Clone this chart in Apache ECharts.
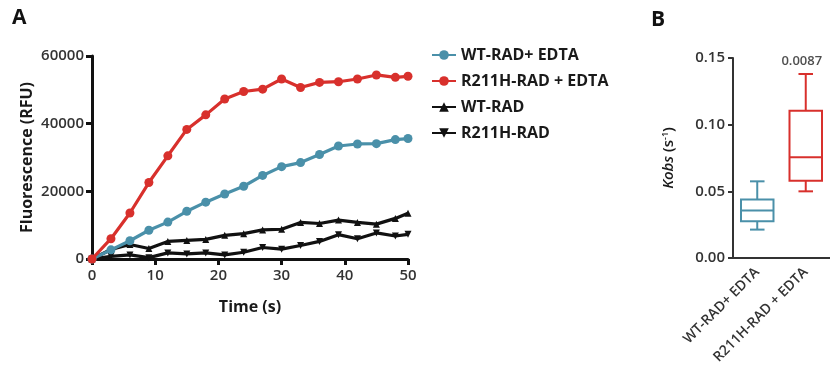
<!DOCTYPE html>
<html>
<head>
<meta charset="utf-8">
<script src="https://cdn.jsdelivr.net/npm/echarts@6/dist/echarts.min.js"></script>
<style>
  html, body { margin: 0; padding: 0; background: #fff; }
  #chart { width: 830px; height: 375px; }
</style>
</head>
<body>
<div id="chart"></div>
<script>
  // panel A: fluorescence over time
  var timeS = [0, 3, 6, 9, 12, 15, 18, 21, 24, 27, 30, 33, 36, 39, 42, 45, 48, 50]
  var wtEdta = [0, 2700, 5400, 8500, 10900, 14100, 16800, 19200, 21500, 24700, 27300, 28500, 30900, 33400, 34000, 34100, 35300, 35600]
  var r211hEdta = [0, 6000, 13600, 22600, 30500, 38300, 42600, 47300, 49500, 50200, 53200, 50700, 52200, 52400, 53200, 54400, 53700, 54000]
  var wtRad = [0, 2800, 4300, 3100, 5200, 5500, 5800, 7000, 7500, 8600, 8800, 10800, 10500, 11500, 10800, 10300, 12000, 13500]
  var r211hRad = [0, 800, 1200, 400, 1800, 1500, 1800, 1200, 2000, 3400, 2900, 4000, 5200, 7200, 6000, 7700, 6800, 7300]
  var seriesNames = ['WT-RAD+ EDTA', 'R211H-RAD + EDTA', 'WT-RAD', 'R211H-RAD']

  // panel B: kobs box plot [min, q1, median, q3, max]
  var boxCategories = ['WT-RAD+ EDTA', 'R211H-RAD + EDTA']
  var boxWt = [0.0213, 0.0275, 0.0357, 0.0438, 0.0575]
  var boxR211h = [0.0500, 0.0580, 0.0755, 0.1105, 0.1380]
  var pValue = '0.0087'
  var pValueAt = [1, 0.143]

  var BLUE = '#4a90a9'
  var RED = '#d8302c'
  var BLACK = '#111'
  var FONT = '"Open Sans", "DejaVu Sans", sans-serif'

  function pairs(ys) {
    return timeS.map(function (t, i) { return [t, ys[i]] })
  }

  function lineSeries(name, ys, color, symbol, rot, size, z) {
    return {
      name: name,
      type: 'line',
      xAxisIndex: 0,
      yAxisIndex: 0,
      data: pairs(ys),
      symbol: symbol,
      symbolRotate: rot,
      symbolSize: size,
      showSymbol: true,
      clip: false,
      z: z,
      lineStyle: { color: color, width: 3.2 },
      itemStyle: { color: color }
    }
  }

  var boxColors = [BLUE, RED]

  function renderBox(params, api) {
    var cat = api.value(0)
    var v = [api.value(1), api.value(2), api.value(3), api.value(4), api.value(5)]
    var band = api.size([1, 0])[0]
    var half = band * 0.335
    var cap = band * 0.15
    var p = v.map(function (y) { return api.coord([cat, y]) })
    var cx = p[0][0]
    var style = { stroke: boxColors[params.dataIndex], lineWidth: 2, fill: null }
    return {
      type: 'group',
      children: [
        { type: 'rect', shape: { x: cx - half, y: p[3][1], width: half * 2, height: p[1][1] - p[3][1] }, style: style },
        { type: 'line', shape: { x1: cx - half, y1: p[2][1], x2: cx + half, y2: p[2][1] }, style: style },
        { type: 'line', shape: { x1: cx, y1: p[3][1], x2: cx, y2: p[4][1] }, style: style },
        { type: 'line', shape: { x1: cx, y1: p[1][1], x2: cx, y2: p[0][1] }, style: style },
        { type: 'line', shape: { x1: cx - cap, y1: p[4][1], x2: cx + cap, y2: p[4][1] }, style: style },
        { type: 'line', shape: { x1: cx - cap, y1: p[0][1], x2: cx + cap, y2: p[0][1] }, style: style }
      ]
    }
  }

  var option = {
    animation: false,
    textStyle: { fontFamily: FONT },
    graphic: [
      { type: 'text', left: 12, top: 8, style: { text: 'A', font: 'bold 21px ' + FONT, fill: '#111' } },
      { type: 'text', left: 651, top: 10, style: { text: 'B', font: 'bold 21px ' + FONT, fill: '#111' } }
    ],
    legend: {
      data: seriesNames,
      orient: 'vertical',
      left: 426,
      top: 39,
      itemWidth: 24,
      itemHeight: 12,
      itemGap: 4,
      textStyle: { fontSize: 16, fontWeight: 'bold', color: '#1a1a1a', fontFamily: FONT, lineHeight: 22 }
    },
    grid: [
      { left: 92, right: 422, top: 56, bottom: 116 },
      { left: 733, right: -7, top: 58, bottom: 117 }
    ],
    xAxis: [
      {
        type: 'value', gridIndex: 0, min: 0, max: 50, interval: 10,
        name: 'Time (s)', nameLocation: 'middle', nameGap: 40,
        nameTextStyle: { fontSize: 16, fontWeight: 'bold', color: '#1a1a1a' },
        axisLine: { lineStyle: { color: BLACK, width: 3 } },
        axisTick: { length: 6, lineStyle: { color: BLACK, width: 3 } },
        axisLabel: { fontSize: 15, fontWeight: 600, color: '#333', margin: 9 },
        splitLine: { show: false }
      },
      {
        type: 'category', gridIndex: 1, data: boxCategories,
        axisLine: { lineStyle: { color: '#333', width: 2 } },
        axisTick: { alignWithLabel: true, length: 5, lineStyle: { color: '#333', width: 2 } },
        axisLabel: { rotate: 45, fontSize: 14, fontWeight: 600, color: '#333', margin: 12, interval: 0 }
      }
    ],
    yAxis: [
      {
        type: 'value', gridIndex: 0, min: 0, max: 60000, interval: 20000,
        name: 'Fluorescence (RFU)', nameLocation: 'middle', nameGap: 57,
        nameTextStyle: { fontSize: 16, fontWeight: 'bold', color: '#1a1a1a' },
        axisLine: { show: true, lineStyle: { color: BLACK, width: 3 } },
        axisTick: { show: true, length: 6, lineStyle: { color: BLACK, width: 3 } },
        axisLabel: { fontSize: 15, fontWeight: 600, color: '#333', margin: 8, formatter: function (v) { return String(v) } },
        splitLine: { show: false }
      },
      {
        type: 'value', gridIndex: 1, min: 0, max: 0.15, interval: 0.05,
        name: '{i|Kobs} {n|(s}{sup|-1}{n|)}', nameLocation: 'middle', nameGap: 57,
        nameTextStyle: {
          fontSize: 15, color: '#1a1a1a',
          rich: {
            i: { fontSize: 15, fontStyle: 'italic', fontWeight: 600, color: '#1a1a1a', fontFamily: FONT },
            n: { fontSize: 15, fontWeight: 600, color: '#1a1a1a', fontFamily: FONT },
            sup: { fontSize: 9, fontWeight: 600, verticalAlign: 'top', lineHeight: 10, color: '#1a1a1a', fontFamily: FONT }
          }
        },
        axisLine: { show: true, lineStyle: { color: '#333', width: 2 } },
        axisTick: { show: true, length: 5, lineStyle: { color: '#333', width: 2 } },
        axisLabel: {
          fontSize: 15, fontWeight: 600, color: '#333', margin: 8,
          formatter: function (v) { return v.toFixed(2) }
        },
        splitLine: { show: false }
      }
    ],
    series: [
      lineSeries('WT-RAD', wtRad, BLACK, 'triangle', 0, 7, 2),
      lineSeries('R211H-RAD', r211hRad, BLACK, 'triangle', 180, 7, 2),
      lineSeries('WT-RAD+ EDTA', wtEdta, BLUE, 'circle', 0, 9, 3),
      lineSeries('R211H-RAD + EDTA', r211hEdta, RED, 'circle', 0, 9, 4),
      {
        type: 'custom',
        name: 'Kobs',
        xAxisIndex: 1,
        yAxisIndex: 1,
        renderItem: renderBox,
        encode: { x: 0, y: [1, 2, 3, 4, 5] },
        data: [[0].concat(boxWt), [1].concat(boxR211h)]
      },
      {
        type: 'scatter',
        name: 'p',
        xAxisIndex: 1,
        yAxisIndex: 1,
        symbolSize: 0,
        silent: true,
        data: [pValueAt],
        label: { show: true, position: 'top', distance: 0, formatter: pValue, fontSize: 13, fontWeight: 600, color: '#222', fontFamily: FONT, offset: [-4, 0] }
      }
    ]
  }

  var chart = echarts.init(document.getElementById('chart'))
  chart.setOption(option)
</script>
</body>
</html>
